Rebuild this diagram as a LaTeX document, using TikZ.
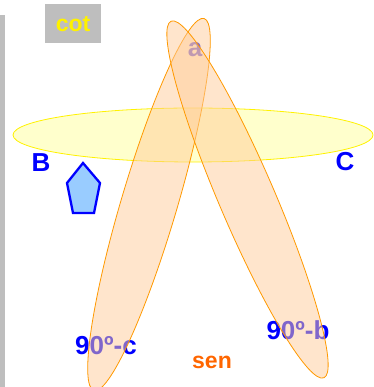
\documentclass[tikz,border=0pt]{standalone}
\usepackage{fontspec}
\setmainfont{Liberation Sans}
\definecolor{peach}{HTML}{FFCC99}
\definecolor{amber}{HTML}{FF9900}
\definecolor{lemon}{HTML}{FFFF99}
\definecolor{sky}{HTML}{99CCFF}
\definecolor{boxgray}{HTML}{BEBEBE}
\definecolor{rust}{HTML}{FF6600}
\tikzset{
  lbl/.style={inner sep=0pt, text=blue, font=\bfseries\fontsize{26}{26}\selectfont},
  small/.style={inner sep=0pt, font=\bfseries\fontsize{23}{23}\selectfont},
  leaf/.style={draw=amber, fill=peach, fill opacity=0.5, line width=0.8pt},
}
\begin{document}
\begin{tikzpicture}[x=1pt,y=1pt]
\useasboundingbox (0,0) rectangle (373,387);
\fill[boxgray] (0,0) rectangle (5,372);
\node[small, fill=boxgray, text=yellow, minimum width=56pt, minimum height=39pt] (cot) at (73,363) {cot};
\node[lbl] (B) at (41,224) {B};
\node[lbl] (C) at (345,225) {C};
\node[lbl] (a) at (195,337) {a};
\node[lbl] (c90) at (106,41) {90º-c};
\node[lbl] (b90) at (298,57) {90º-b};
\node[small, text=rust] (sen) at (212,25) {sen};
% ellipses over the labels
\filldraw[draw=yellow, fill=lemon, fill opacity=0.5, line width=0.8pt] (193,252) ellipse (180 and 27);
\filldraw[leaf, rotate around={73.5:(149,182.5)}] (149,182.5) ellipse (194 and 28);
\filldraw[leaf, rotate around={113.2:(247.5,187.5)}] (247.5,187.5) ellipse (194 and 28);
% pentagon
\filldraw[draw=blue, fill=sky, line width=2.3pt, line join=miter]
  (83,224) -- (100,204) -- (94,174) -- (73,174) -- (67,204) -- cycle;
\end{tikzpicture}
\end{document}
